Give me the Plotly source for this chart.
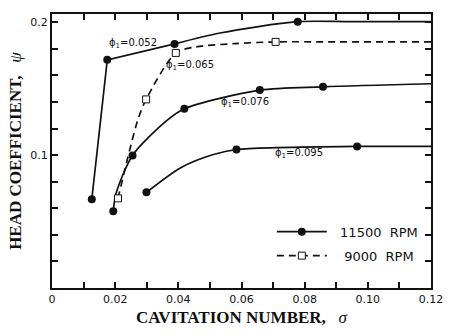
import plotly.graph_objects as go

# ---- data ----
# markers (measured points)
p052_x = [0.0126, 0.0175, 0.0388, 0.0778]
p052_y = [0.0668, 0.1718, 0.1838, 0.2005]
p065_x = [0.0209, 0.0298, 0.0392, 0.0708]
p065_y = [0.0675, 0.1420, 0.1770, 0.1853]
p076_x = [0.0194, 0.0255, 0.0419, 0.0658, 0.0858]
p076_y = [0.0578, 0.0998, 0.1350, 0.1490, 0.1515]
p095_x = [0.0299, 0.0584, 0.0966]
p095_y = [0.0720, 0.1043, 0.1066]

# faired curves
c052a_x = [0.0126, 0.0175, 0.0388]
c052a_y = [0.0668, 0.1718, 0.1838]
c052b_x = [0.0388, 0.0532, 0.0778, 0.0950, 0.1200]
c052b_y = [0.1838, 0.1920, 0.2005, 0.2005, 0.2005]
c065_x = [0.0209, 0.0271, 0.0298, 0.0392, 0.0455, 0.0578, 0.0708, 0.0900, 0.1200]
c065_y = [0.0675, 0.1260, 0.1420, 0.1770, 0.1815, 0.1840, 0.1853, 0.1853, 0.1853]
c076_x = [0.0194, 0.0203, 0.0255, 0.0363, 0.0419, 0.0658, 0.0858, 0.1200]
c076_y = [0.0578, 0.0713, 0.0998, 0.1260, 0.1350, 0.1490, 0.1515, 0.1538]
c095_x = [0.0299, 0.0409, 0.0511, 0.0584, 0.0966, 0.1200]
c095_y = [0.0720, 0.0908, 0.1005, 0.1043, 0.1066, 0.1066]

labels = ["ϕ<sub>1</sub>=0.052", "ϕ<sub>1</sub>=0.065", "ϕ<sub>1</sub>=0.076", "ϕ<sub>1</sub>=0.095"]
label_x = [0.0257, 0.0438, 0.0611, 0.0782]
label_y = [0.1838, 0.1673, 0.1395, 0.1013]

x_ticks = [round(i * 0.01, 2) for i in range(13)]
x_ticktext = ["0", "", "0.02", "", "0.04", "", "0.06", "", "0.08", "", "0.10", "", "0.12"]
y_ticks = [round(i * 0.02, 2) for i in range(11)]
y_ticktext = ["", "", "", "", "", "0.1", "", "", "", "", "0.2"]

BLACK = "#111111"
fig = go.Figure()

solid = dict(color=BLACK, width=1.7)
dashed = dict(color=BLACK, width=1.7, dash="7px,5px")

fig.add_trace(go.Scatter(x=c052a_x, y=c052a_y, mode="lines", line=solid, showlegend=False))
fig.add_trace(go.Scatter(x=c052b_x, y=c052b_y, mode="lines", line=dict(solid, shape="spline", smoothing=0.8), showlegend=False))
fig.add_trace(go.Scatter(x=c065_x, y=c065_y, mode="lines", line=dict(dashed, shape="spline", smoothing=0.8), showlegend=False))
fig.add_trace(go.Scatter(x=c076_x, y=c076_y, mode="lines", line=dict(solid, shape="spline", smoothing=0.8), showlegend=False))
fig.add_trace(go.Scatter(x=c095_x, y=c095_y, mode="lines", line=dict(solid, shape="spline", smoothing=0.8), showlegend=False))

circ = dict(symbol="circle", size=8, color=BLACK, line=dict(width=0))
sq_fill = dict(symbol="square", size=7, color="white", line=dict(width=1, color=BLACK))

for xs, ys in [(p052_x, p052_y), (p076_x, p076_y), (p095_x, p095_y)]:
    fig.add_trace(go.Scatter(x=xs, y=ys, mode="markers", marker=circ, showlegend=False))
fig.add_trace(go.Scatter(x=p065_x, y=p065_y, mode="markers", marker=sq_fill, showlegend=False))

# legend entries
fig.add_trace(go.Scatter(x=[None], y=[None], mode="lines+markers", name="\u00a0\u00a011500\u00a0\u00a0RPM",
                         line=solid, marker=circ, legendgroup="a"))
fig.add_trace(go.Scatter(x=[None], y=[None], mode="lines+markers", name="\u00a0\u00a0\u00a09000\u00a0\u00a0RPM",
                         line=dashed, marker=sq_fill, legendgroup="b"))

for t, lx, ly in zip(labels, label_x, label_y):
    fig.add_annotation(x=lx, y=ly, text=t, showarrow=False,
                       font=dict(family="DejaVu Sans", size=10, color=BLACK))

axis_common = dict(showline=True, linewidth=2, linecolor=BLACK, mirror="allticks",
                   ticks="inside", ticklen=6, tickwidth=1.5, tickcolor=BLACK,
                   showgrid=False, zeroline=False,
                   tickfont=dict(family="DejaVu Sans", size=11, color=BLACK))

title_font = dict(family="Liberation Serif, Times New Roman", size=17, color=BLACK)
fig.update_xaxes(range=[0, 0.12], tickvals=x_ticks, ticktext=x_ticktext,
                 title=dict(text="<b>CAVITATION NUMBER,</b>\u00a0\u00a0\u00a0<i>σ</i>", standoff=6,
                            font=title_font),
                 **axis_common)
fig.update_yaxes(range=[0, 0.2063], tickvals=y_ticks, ticktext=y_ticktext,
                 title=dict(text="<b>HEAD COEFFICIENT,</b>\u00a0\u00a0\u00a0<i>ψ</i>", standoff=4,
                            font=title_font),
                 **axis_common)

fig.update_layout(
    width=455, height=336,
    margin=dict(l=52, r=13, t=13, b=48),
    paper_bgcolor="white", plot_bgcolor="white",
    font=dict(family="Liberation Serif", color=BLACK),
    legend=dict(x=0.58, y=0.26, xanchor="left", yanchor="top", bgcolor="rgba(0,0,0,0)",
                font=dict(family="DejaVu Sans", size=13, color=BLACK),
                itemwidth=50, tracegroupgap=4, traceorder="grouped"),
)

fig.write_html("out.html")
